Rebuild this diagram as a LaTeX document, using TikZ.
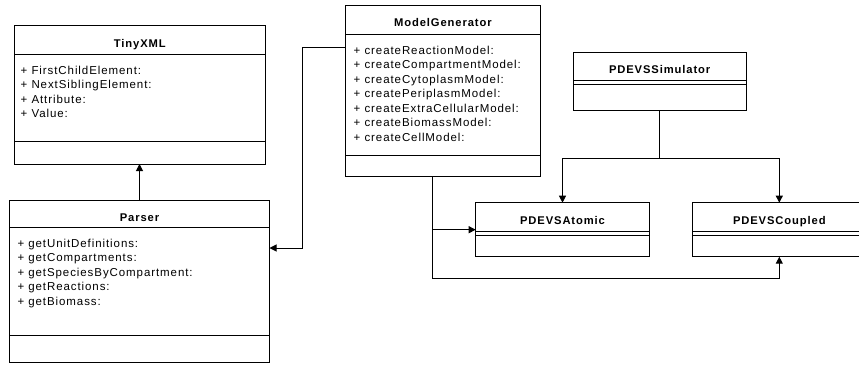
\documentclass[tikz,border=0pt]{standalone}
\usepackage{fontspec}
\usetikzlibrary{arrows.meta,calc}
\newfontfamily\umlfont[LetterSpace=8]{Liberation Sans}
\begin{document}
\begin{tikzpicture}[x=1pt,y=-1pt,
  umlbox/.style={draw=black, line width=1pt, rectangle, inner sep=0pt, outer sep=0pt, anchor=north west},
  divider/.style={draw=black, line width=1pt},
  classtitle/.style={font=\umlfont\fontsize{11.2}{13}\selectfont\bfseries, anchor=base, inner sep=0pt},
  member/.style={font=\umlfont\fontsize{11.5}{13}\selectfont, anchor=base west, inner sep=0pt},
  conn/.style={draw=black, line width=1pt},
  arr/.style={conn, -{Triangle[length=7pt,width=7pt]}}]
\useasboundingbox (0,0) rectangle (859,364);
\clip (0,0) rectangle (859,364);

% TinyXML
\node[umlbox, minimum width=250.3pt, minimum height=138.5pt] (tinyxml) at (14.7,25.5) {};
\draw[divider] (14.7,54) -- (265,54);
\draw[divider] (14.7,141.7) -- (265,141.7);
\node[classtitle] (tinyxml-name) at (139.85,47) {TinyXML};
\foreach \m [count=\i from 0] in {+ FirstChildElement:, + NextSiblingElement:, + Attribute:, + Value:}
  \node[member] (tinyxml-m\i) at (20.5,74+14.5*\i) {\m};

% Parser
\node[umlbox, minimum width=260pt, minimum height=162.7pt] (parser) at (9.5,200) {};
\draw[divider] (9.5,227.3) -- (269.5,227.3);
\draw[divider] (9.5,335.7) -- (269.5,335.7);
\node[classtitle] (parser-name) at (139.5,221) {Parser};
\foreach \m [count=\i from 0] in {+ getUnitDefinitions:, + getCompartments:, + getSpeciesByCompartment:, + getReactions:, + getBiomass:}
  \node[member] (parser-m\i) at (17.3,247.3+14.5*\i) {\m};

% ModelGenerator
\node[umlbox, minimum width=195.7pt, minimum height=170.3pt] (modelgen) at (345,5.7) {};
\draw[divider] (345,34) -- (540.7,34);
\draw[divider] (345,155.7) -- (540.7,155.7);
\node[classtitle] (modelgen-name) at (442.85,27) {ModelGenerator};
\foreach \m [count=\i from 0] in {+ createReactionModel:, + createCompartmentModel:, + createCytoplasmModel:, + createPeriplasmModel:, + createExtraCellularModel:, + createBiomassModel:, + createCellModel:}
  \node[member] (modelgen-m\i) at (353.5,54+14.5*\i) {\m};

% PDEVSSimulator
\node[umlbox, minimum width=172.7pt, minimum height=58pt] (sim) at (573.3,52) {};
\draw[divider] (573.3,80) -- (746,80);
\draw[divider] (573.3,84) -- (746,84);
\node[classtitle] (sim-name) at (659.65,73.3) {PDEVSSimulator};

% PDEVSAtomic
\node[umlbox, minimum width=173.6pt, minimum height=54pt] (atomic) at (475.7,202.7) {};
\draw[divider] (475.7,231) -- (649.3,231);
\draw[divider] (475.7,235) -- (649.3,235);
\node[classtitle] (atomic-name) at (562.5,224.3) {PDEVSAtomic};

% PDEVSCoupled
\node[umlbox, minimum width=173.2pt, minimum height=54pt] (coupled) at (692.7,202.7) {};
\draw[divider] (692.7,231) -- (865.9,231);
\draw[divider] (692.7,235) -- (865.9,235);
\node[classtitle] (coupled-name) at (779.3,224.3) {PDEVSCoupled};

% Connectors
\draw[arr] (parser.north) -- (parser.north |- tinyxml.south);
\draw[arr] ([yshift=-41.6pt]modelgen.north west)
  -| ([xshift=33.2pt,yshift=-48pt]parser.north east)
  -- ([yshift=-48pt]parser.north east);
\draw[arr] ([xshift=87.7pt]modelgen.south west) |- (atomic.west);
\draw[arr] ([xshift=87.7pt]modelgen.south west)
  |- ([yshift=-21.6pt]coupled.south) -- (coupled.south);
\coordinate (fork) at ($(sim.south)+(0,48.3)$);
\draw[conn] (sim.south) -- (fork);
\draw[arr] (fork) -| (atomic.north);
\draw[arr] (fork) -| (coupled.north);
\end{tikzpicture}
\end{document}
